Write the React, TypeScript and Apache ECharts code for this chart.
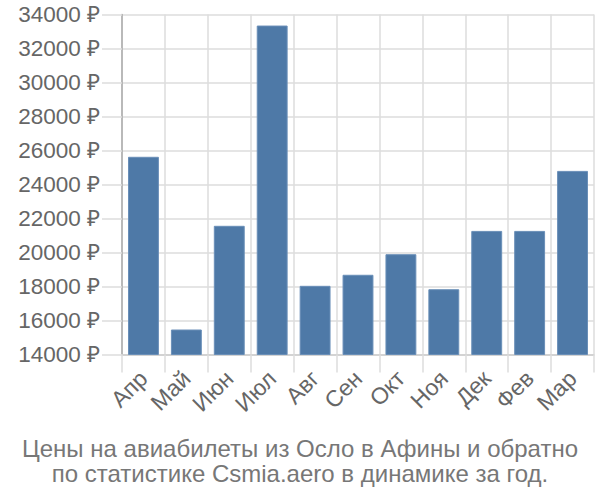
import React, { useEffect, useRef } from "react";
import * as echarts from "echarts";

const categories = ["Апр", "Май", "Июн", "Июл", "Авг", "Сен", "Окт", "Ноя", "Дек", "Фев", "Мар"];
const prices = [25630, 15470, 21570, 33350, 18040, 18690, 19900, 17840, 21270, 21270, 24800];
const titleLines = [
  "Цены на авиабилеты из Осло в Афины и обратно",
  "по статистике Csmia.aero в динамике за год.",
];

const FONT = "Liberation Sans, Arial, sans-serif";

export default function App() {
  const ref = useRef<HTMLDivElement>(null);
  useEffect(() => {
    const chart = echarts.init(ref.current!, null, { renderer: "svg" });
    chart.setOption({
      animation: false,
      title: {
        text: titleLines.join("\n"),
        left: "center",
        top: 431,
        textStyle: {
          fontFamily: FONT,
          fontSize: 24,
          fontWeight: "normal",
          color: "#777",
          lineHeight: 25,
        },
      },
      grid: { left: 122, right: 6, top: 14.5, bottom: 145.5 },
      xAxis: {
        type: "category",
        data: categories,
        axisLine: { show: true, lineStyle: { color: "#ccc", width: 1.5 } },
        axisTick: { show: true, length: 18, lineStyle: { color: "#ddd", width: 1.5 } },
        splitLine: { show: true, lineStyle: { color: "#ddd", width: 1.5 } },
        axisLabel: {
          rotate: 45,
          margin: 20,
          fontFamily: FONT,
          fontSize: 23,
          color: "#666",
          interval: 0,
        },
      },
      yAxis: {
        type: "value",
        min: 14000,
        max: 34000,
        interval: 2000,
        axisLine: { show: true, lineStyle: { color: "#aaa", width: 1.5 } },
        axisTick: { show: true, length: 20, lineStyle: { color: "#ddd", width: 1.5 } },
        splitLine: { show: true, lineStyle: { color: "#ddd", width: 1.5 } },
        axisLabel: {
          margin: 22,
          formatter: (v: number) => v + " ₽",
          fontFamily: FONT,
          fontSize: 22.5,
          color: "#666",
        },
      },
      series: [
        {
          type: "bar",
          data: prices,
          barWidth: "72%",
          itemStyle: { color: "#4e79a7", borderColor: "#6a8fb8", borderWidth: 1 },
        },
      ],
    });
    return () => chart.dispose();
  }, []);
  return <div ref={ref} style={{ width: 600, height: 500, position: "absolute", left: 0, top: 0 }} />;
}
